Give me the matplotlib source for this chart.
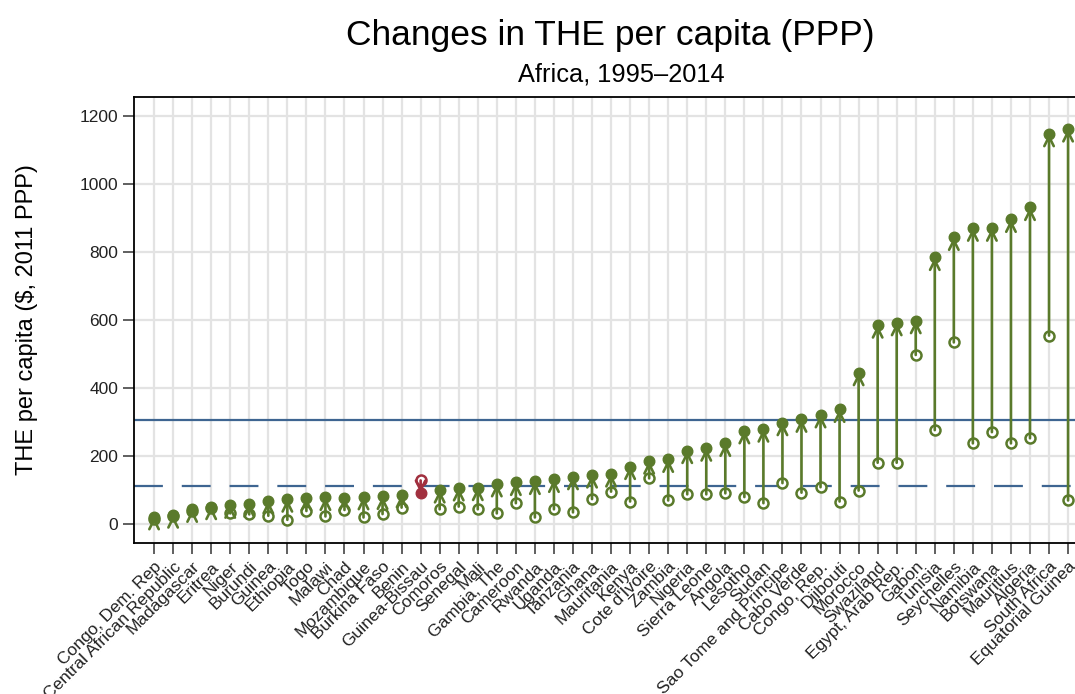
import matplotlib
matplotlib.use("Agg")
import matplotlib.pyplot as plt

# Total health expenditure per capita, 1995 vs 2014 (2011 PPP $)
paises = [
    "Congo, Dem. Rep", "Central African Republic", "Madagascar", "Eritrea",
    "Niger", "Burundi", "Guinea", "Ethiopia", "Togo", "Malawi", "Chad",
    "Mozambique", "Burkina Faso", "Benin", "Guinea-Bissau", "Comoros",
    "Senegal", "Mali", "Gambia, The", "Cameroon", "Rwanda", "Uganda",
    "Tanzania", "Ghana", "Mauritania", "Kenya", "Cote d'Ivoire", "Zambia",
    "Nigeria", "Sierra Leone", "Angola", "Lesotho", "Sudan",
    "Sao Tome and Principe", "Cabo Verde", "Congo, Rep.", "Djibouti",
    "Morocco", "Swaziland", "Egypt, Arab Rep.", "Gabon", "Tunisia",
    "Seychelles", "Namibia", "Botswana", "Mauritius", "Algeria",
    "South Africa", "Equatorial Guinea",
]
the_1995 = [
    16, 22, 39, 47, 31, 28, 24, 12, 38, 22, 41,
    19, 29, 48, 128, 43,
    51, 43, 31, 61, 19, 43,
    34, 73, 95, 66, 134, 69,
    87, 87, 90, 79, 61,
    120, 92, 108, 66,
    98, 180, 180, 497, 276,
    534, 237, 270, 237, 252,
    554, 69,
]
the_2014 = [
    21, 26, 43, 51, 55, 58, 68, 73, 77, 78, 77,
    80, 81, 86, 91, 100,
    106, 107, 118, 122, 125, 131,
    139, 144, 147, 169, 185, 190,
    216, 223, 237, 274, 279,
    298, 308, 321, 337,
    445, 585, 592, 598, 784,
    843, 870, 870, 896, 931,
    1148, 1162,
]
media = 305      # línea continua
mediana = 112    # línea discontinua

VERDE = "#5a7a2b"
ROJO = "#a1303f"
AZUL = "#3e6591"

plt.rcParams["font.family"] = ["Liberation Sans", "DejaVu Sans"]

fig = plt.figure(figsize=(10.75, 6.94), dpi=100)
ax = fig.add_axes([0.1247, 0.2176, 0.8763, 0.6426])

x = list(range(len(paises)))
ax.axhline(media, color=AZUL, lw=1.6, zorder=2)
ax.axhline(mediana, color=AZUL, lw=1.6, dashes=(13, 8.5), zorder=2)

for i, (ini, fin) in enumerate(zip(the_1995, the_2014)):
    c = VERDE if fin >= ini else ROJO
    ax.plot(i, ini, "o", ms=7.2, mfc="white", mec=c, mew=1.8, zorder=3)
    ax.annotate("", xy=(i, fin), xytext=(i, ini),
                arrowprops=dict(arrowstyle="->", color=c, lw=1.9,
                                shrinkA=0, shrinkB=0, mutation_scale=17),
                zorder=4)
    ax.plot(i, fin, "o", ms=7.6, color=c, mec=c, zorder=5)

ax.set_xlim(-1.05, 48.42)
ax.set_ylim(-56, 1256)
ax.set_xticks(x)
ax.set_xticklabels(paises, rotation=45, ha="right", va="top",
                   rotation_mode="anchor", fontsize=12.5, color="#222222")
ax.set_yticks(range(0, 1201, 200))
ax.tick_params(axis="y", labelsize=12.5, labelcolor="#222222")
ax.tick_params(direction="out", length=8, width=1.2, color="#444444")
ax.grid(True, color="#e3e3e3", lw=1.6, zorder=0)
ax.set_axisbelow(True)
for lado in ax.spines.values():
    lado.set_linewidth(1.3)
ax.spines["right"].set_visible(False)

ax.set_ylabel("THE per capita ($, 2011 PPP)", fontsize=17, labelpad=30)
fig.text(0.568, 0.949, "Changes in THE per capita (PPP)", fontsize=25.5,
         ha="center", va="center")
fig.text(0.578, 0.893, "Africa, 1995\u20132014", fontsize=18.3,
         ha="center", va="center")

fig.savefig("out.png", dpi=100)
